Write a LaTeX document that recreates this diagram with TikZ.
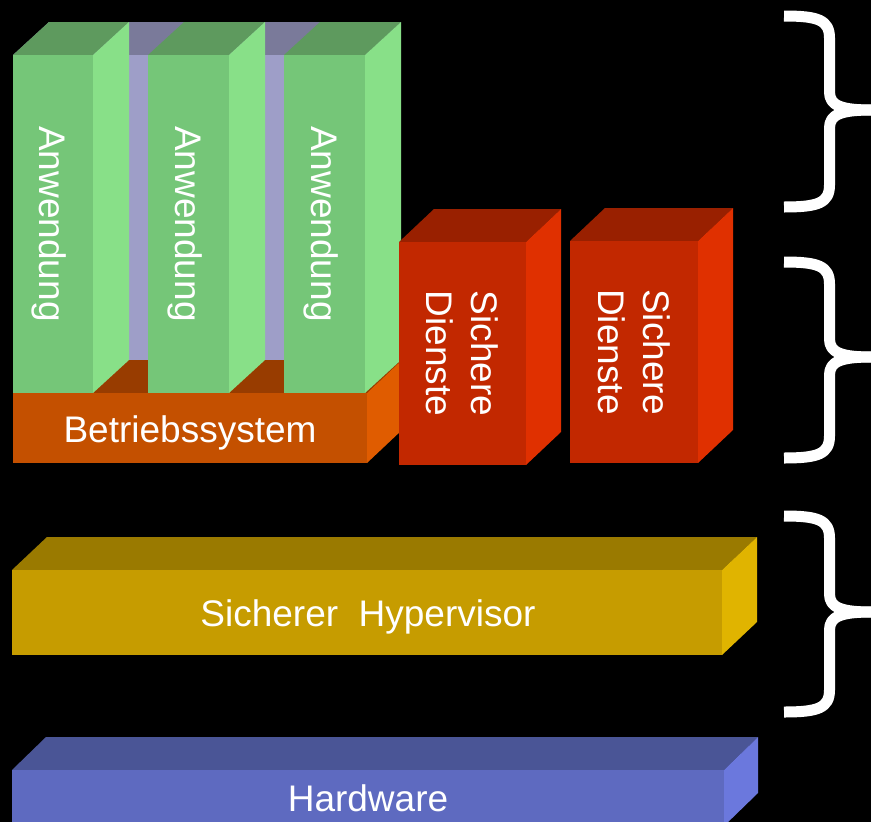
\documentclass[tikz,border=0pt]{standalone}
\usepackage{fontspec}
\setmainfont{Liberation Sans}

% face colours: F = front, S = right side, T = top
\definecolor{greenF}{RGB}{117,198,120}
\definecolor{greenS}{RGB}{136,224,136}
\definecolor{greenT}{RGB}{94,154,94}
\definecolor{backF}{RGB}{158,158,200}
\definecolor{backT}{RGB}{122,122,154}
\definecolor{osF}{RGB}{196,80,0}
\definecolor{osS}{RGB}{224,92,0}
\definecolor{osT}{RGB}{152,60,0}
\definecolor{redF}{RGB}{194,40,0}
\definecolor{redS}{RGB}{224,48,0}
\definecolor{redT}{RGB}{153,32,0}
\definecolor{hypF}{RGB}{198,156,0}
\definecolor{hypS}{RGB}{224,180,0}
\definecolor{hypT}{RGB}{154,122,0}
\definecolor{hwF}{RGB}{94,106,192}
\definecolor{hwS}{RGB}{107,120,221}
\definecolor{hwT}{RGB}{74,85,150}

% cuboid: left, top, right, bottom of the front face, depth in x, colour family
\newcommand\drawcuboid[6]{%
  \fill[#6T] (#1,#2) -- (#1+#5,#2-33) -- (#3+#5,#2-33) -- (#3,#2) -- cycle;
  \fill[#6S] (#3,#2) -- (#3+#5,#2-33) -- (#3+#5,#4-33) -- (#3,#4) -- cycle;
  \fill[#6F] (#1,#2) rectangle (#3,#4);
}

% curly brace opening to the right: top y, tip y, bottom y
\newcommand\drawbrace[3]{%
  \draw[bracestyle] (784,#1) .. controls (818,#1) and (829.5,#1+4) .. (829.5,#1+22)
    -- (829.5,#2-18) .. controls (829.5,#2-4) and (842,#2) .. (872,#2);
  \draw[bracestyle] (872,#2) .. controls (842,#2) and (829.5,#2+4) .. (829.5,#2+18)
    -- (829.5,#3-22) .. controls (829.5,#3-4) and (818,#3) .. (784,#3);
}

\tikzset{
  bracestyle/.style={draw=white, line width=11pt, line join=round},
  lbl/.style={text=white, font=\fontsize{37}{45}\selectfont, inner sep=0pt},
  vlbl/.style={lbl, rotate=-90, anchor=base},
  mlbl/.style={lbl, rotate=-90, align=center},
}

\begin{document}
\begin{tikzpicture}[x=1pt,y=-1pt]
  \fill[black] (0,0) rectangle (871,822);
  \useasboundingbox (0,0) rectangle (871,822);

  % back panel behind the applications
  \fill[backT] (13,55) -- (49,22) -- (401,22) -- (365,55) -- cycle;
  \fill[backF] (13,55) rectangle (365,360);

  % operating system slab
  \drawcuboid{13}{393}{367}{463}{35}{os}

  % three application blocks
  \drawcuboid{13}{55}{93}{393}{36}{green}
  \drawcuboid{148}{55}{229}{393}{36}{green}
  \drawcuboid{284}{55}{365}{393}{36}{green}

  % secure services
  \drawcuboid{399}{242}{526}{465}{35}{red}
  \drawcuboid{570}{241}{698}{463}{35}{red}

  % hypervisor and hardware
  \drawcuboid{12}{570}{722}{655}{35}{hyp}
  \drawcuboid{12}{770}{724}{826}{34}{hw}

  % labels
  \node[vlbl] (app1) at (39.5,224) {Anwendung};
  \node[vlbl] (app2) at (175,224) {Anwendung};
  \node[vlbl] (app3) at (311,224) {Anwendung};
  \node[lbl, anchor=base] (os) at (190,442) {Betriebssystem};
  \node[mlbl] (svc1) at (462,353.5) {Sichere\\Dienste};
  \node[mlbl] (svc2) at (634,352) {Sichere\\Dienste};
  \node[lbl, anchor=base] (hyp) at (368,626) {Sicherer~~Hypervisor};
  \node[lbl, anchor=base] (hw) at (368,811) {Hardware};

  % braces on the right
  \drawbrace{16}{110}{207}
  \drawbrace{262}{357}{458}
  \drawbrace{516}{612}{712}
\end{tikzpicture}
\end{document}
